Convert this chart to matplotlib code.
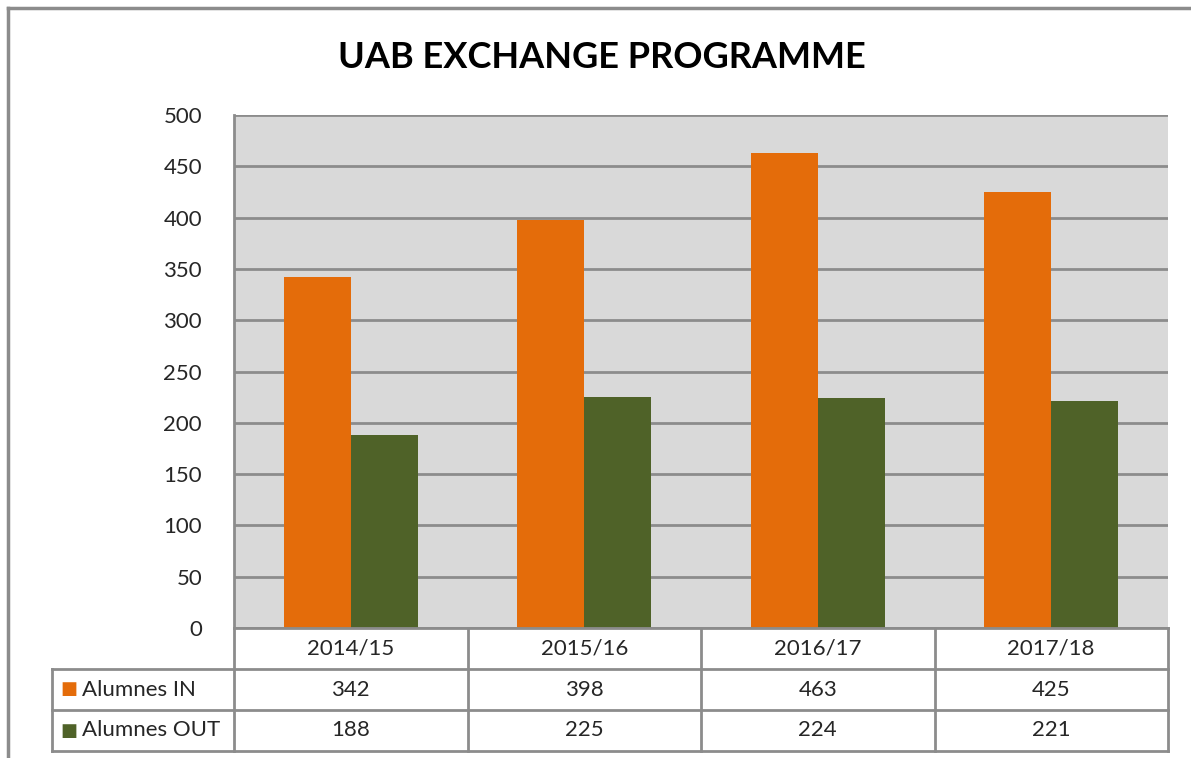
import matplotlib.pyplot as plt
from matplotlib.patches import Rectangle
import matplotlib.transforms as mtransforms

# data
years = ['2014/15', '2015/16', '2016/17', '2017/18']
alumnes_in = [342, 398, 463, 425]
alumnes_out = [188, 225, 224, 221]
series_names = ['Alumnes IN', 'Alumnes OUT']
colors = ['#E46C0A', '#4F6228']
yticks = [0, 50, 100, 150, 200, 250, 300, 350, 400, 450, 500]

plt.rcParams['font.family'] = ['Lato', 'DejaVu Sans']
grid_col = '#8C8C8C'
txt_col = '#262626'
fs = 16

fig = plt.figure(figsize=(11.91, 7.58), dpi=100)
W, H = 1191, 758

# outer frame of the chart object
fig.add_artist(plt.Line2D([8 / W, 8 / W], [0, 1 - 8 / H], color='#8C8C8C', lw=2.5))
fig.add_artist(plt.Line2D([8 / W, 1], [1 - 8 / H, 1 - 8 / H], color='#8C8C8C', lw=2.5))

ax = fig.add_axes([234 / W, 1 - 628 / H, 934 / W, 513 / H])
ax.set_facecolor('#D9D9D9')

x = list(range(len(years)))
bw = 0.287
ax.bar([i - bw / 2 for i in x], alumnes_in, bw, color=colors[0], zorder=3)
ax.bar([i + bw / 2 for i in x], alumnes_out, bw, color=colors[1], zorder=3)

ax.set_xlim(-0.5, len(years) - 0.5)
ax.set_ylim(0, 500)
ax.set_yticks(yticks)
ax.set_yticklabels([str(t) for t in yticks], fontsize=fs, color=txt_col)
ax.tick_params(axis='y', length=0, pad=23)
ax.set_xticks([])
ax.grid(axis='y', color=grid_col, lw=2, zorder=1)
for s in ['top', 'right', 'bottom']:
    ax.spines[s].set_visible(False)
ax.spines['left'].set_color(grid_col)
ax.spines['left'].set_linewidth(2)

fig.text(602 / W, 1 - 57 / H, 'UAB EXCHANGE PROGRAMME', ha='center', va='center',
         fontsize=26, fontweight='bold', color='black')

# data table below the plot: x in data units, y in axes fraction
tr = mtransforms.blended_transform_factory(ax.transData, ax.transAxes)
row_h = 41 / 513
label_left = -0.5 - 182 / 233.5
left = -0.5
right = len(years) - 0.5
y0 = 0
y1 = -row_h
y2 = -2 * row_h
y3 = -3 * row_h

def hline(xa, xb, y):
    ax.plot([xa, xb], [y, y], color=grid_col, lw=2, transform=tr, clip_on=False, zorder=5)

def vline(xv, ya, yb):
    ax.plot([xv, xv], [ya, yb], color=grid_col, lw=2, transform=tr, clip_on=False, zorder=5)

ax.add_patch(Rectangle((left, y3), right - left, -y3, facecolor='white', transform=tr,
                       clip_on=False, zorder=4))
ax.add_patch(Rectangle((label_left, y3), left - label_left, y1 - y3, facecolor='white',
                       transform=tr, clip_on=False, zorder=4))
hline(left, right, y0)
hline(label_left, right, y1)
hline(label_left, right, y2)
hline(label_left, right, y3)
for b in range(len(years) + 1):
    vline(b - 0.5, y0, y3)
vline(label_left, y1, y3)

for i, yr in enumerate(years):
    ax.text(i, (y0 + y1) / 2, yr, transform=tr, ha='center', va='center', fontsize=fs,
            color=txt_col, zorder=6)
    ax.text(i, (y1 + y2) / 2, str(alumnes_in[i]), transform=tr, ha='center', va='center',
            fontsize=fs, color=txt_col, zorder=6)
    ax.text(i, (y2 + y3) / 2, str(alumnes_out[i]), transform=tr, ha='center', va='center',
            fontsize=fs, color=txt_col, zorder=6)

for k, (name, c) in enumerate(zip(series_names, colors)):
    yc = (y1 + y2) / 2 - k * row_h
    ax.text(label_left + 0.037, yc, '\u25A0', transform=tr, ha='left', va='center',
            fontsize=13, color=c, family='DejaVu Sans', zorder=6)
    ax.text(label_left + 0.128, yc, name, transform=tr, ha='left', va='center',
            fontsize=fs, color=txt_col, zorder=6)

fig.savefig('out.png', dpi=100)
